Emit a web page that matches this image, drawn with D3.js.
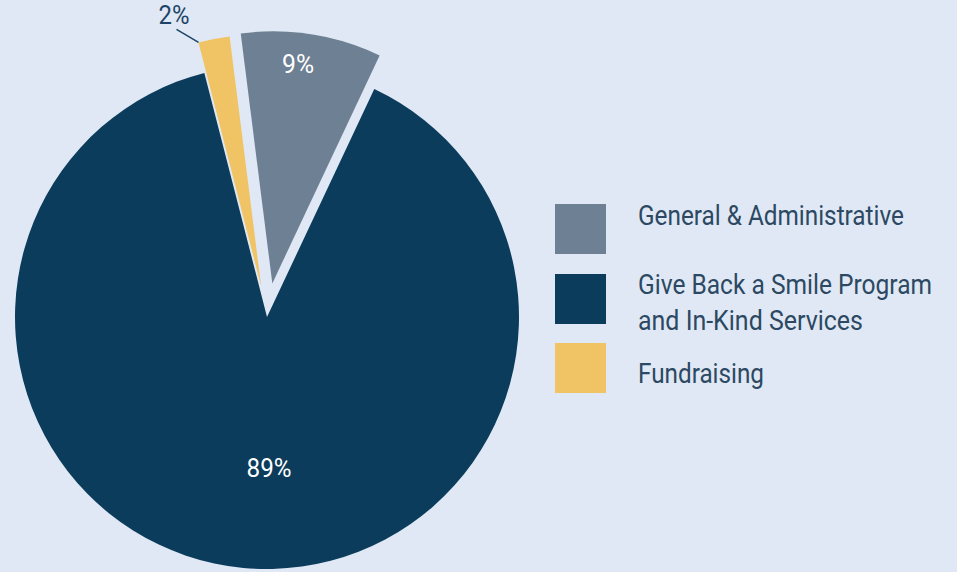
<!DOCTYPE html>
<html>
<head>
<meta charset="utf-8">
<script src="https://cdn.jsdelivr.net/npm/d3@7"></script>
<style>
  html, body { margin: 0; padding: 0; background: #dfe8f4; }
  svg { display: block; }
</style>
</head>
<body>
<div id="chart"></div>
<script>
// Slice data, in drawing order (clockwise from the top)
const categories = ["General & Administrative", "Give Back a Smile Program\nand In-Kind Services", "Fundraising"];
const values = [9, 89, 2];
const labels = ["9%", "89%", "2%"];
const colors = ["#6e8094", "#0b3c5c", "#f0c465"];

const width = 957, height = 572;
const cx = 267, cy = 317, radius = 252;
const explode = [34, 0, 31];
const font = "'Liberation Sans Narrow', 'Roboto', sans-serif";

// condensed look: squeeze a text element to a given width
function squeeze(sel, w) {
    sel.attr("textLength", w).attr("lengthAdjust", "spacingAndGlyphs");
}

const svg = d3.select("#chart").append("svg")
    .attr("width", width)
    .attr("height", height);

svg.append("rect").attr("width", width).attr("height", height).attr("fill", "#dfe8f4");

// start so that the small slices sit either side of 12 o'clock
const pie = d3.pie().sort(null)
    .startAngle(-2 * Math.PI * values[2] / 100)
    .endAngle(2 * Math.PI - 2 * Math.PI * values[2] / 100);
const arcs = pie(values);
const arc = d3.arc().innerRadius(0).outerRadius(radius);

const g = svg.append("g").attr("transform", `translate(${cx},${cy})`);

arcs.forEach((d, i) => {
    const mid = (d.startAngle + d.endAngle) / 2;
    const ox = explode[i] * Math.sin(mid);
    const oy = -explode[i] * Math.cos(mid);
    g.append("path")
        .attr("d", arc(d))
        .attr("transform", `translate(${ox},${oy})`)
        .attr("fill", colors[i]);
});

// in-slice labels: radius from slice tip, angle nudge in degrees, width
const inside = [{i: 0, r: 221, shift: -2.3, w: 32}, {i: 1, r: 151, shift: -6.2, w: 45}];
inside.forEach(({i, r, shift, w}) => {
    const d = arcs[i];
    const mid = (d.startAngle + d.endAngle) / 2;
    const a = mid + shift * Math.PI / 180;
    const ox = explode[i] * Math.sin(mid), oy = -explode[i] * Math.cos(mid);
    const t = g.append("text")
        .attr("x", ox + r * Math.sin(a) - w / 2)
        .attr("y", oy - r * Math.cos(a) + 9)
        .attr("fill", "#ffffff")
        .attr("font-family", font)
        .attr("font-size", "26px")
        .text(labels[i]);
    squeeze(t, w);
});

// outside label for the small slice with a leader line
{
    const i = 2, d = arcs[i];
    const mid = (d.startAngle + d.endAngle) / 2;
    const ox = explode[i] * Math.sin(mid), oy = -explode[i] * Math.cos(mid);
    const a0 = d.startAngle;
    const p0 = [ox + radius * Math.sin(a0), oy - radius * Math.cos(a0)];
    const p1 = [p0[0] - 22, p0[1] - 13];
    g.append("line")
        .attr("x1", p0[0]).attr("y1", p0[1])
        .attr("x2", p1[0]).attr("y2", p1[1])
        .attr("stroke", "#1d4466")
        .attr("stroke-width", 1.5);
    const t = g.append("text")
        .attr("x", p1[0] - 18)
        .attr("y", p1[1] - 5)
        .attr("fill", "#1d4466")
        .attr("font-family", font)
        .attr("font-size", "26px")
        .text(labels[i]);
    squeeze(t, 31);
}

// Legend
const legendTop = [204, 274, 343];
const textBase = [225, 294, 383];
const lineWidths = [[266], [294, 225], [126]];
const legend = svg.append("g");
categories.forEach((c, i) => {
    legend.append("rect")
        .attr("x", 555)
        .attr("y", legendTop[i])
        .attr("width", 51)
        .attr("height", 50)
        .attr("fill", colors[i]);
    c.split("\n").forEach((line, j) => {
        const t = legend.append("text")
            .attr("x", 638)
            .attr("y", textBase[i] + j * 36)
            .attr("fill", "#2c4862")
            .attr("font-family", font)
            .attr("font-size", "28px")
            .text(line);
        squeeze(t, lineWidths[i][j]);
    });
});
</script>
</body>
</html>
